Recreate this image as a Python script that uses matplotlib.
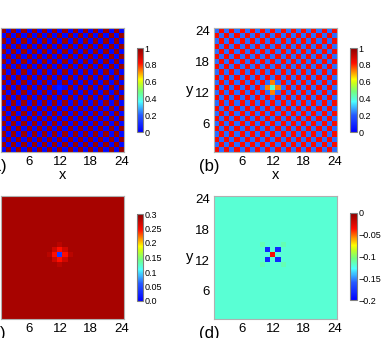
import numpy as np
import matplotlib
matplotlib.use("Agg")
import matplotlib.pyplot as plt
from matplotlib.colors import LinearSegmentedColormap

plt.rcParams['font.family'] = ['Liberation Sans', 'DejaVu Sans']

# grid size and position of the defect site (x, y)
n = 24
cx, cy = 12, 13

# (a) checkerboard levels, defect site
a_hi, a_lo = 0.98, 0.02
a_center = 0.05

# (b) checkerboard levels, defect site and its neighbours
b_hi, b_lo = 0.83, 0.22
b_center = 0.41
b_near = 0.73

# (c) background, defect site, nearest / diagonal / second neighbours
c_bg = 0.287
c_center = 0.04
c_near = 0.245
c_diag = 0.268
c_second = 0.278

# (d) background, defect site, diagonal and second diagonal neighbours
d_bg = -0.12
d_center = -0.035
d_diag = -0.182
d_diag2 = -0.114

ticks = [6, 12, 18, 24]
cb_ticks_ab = [0, 0.2, 0.4, 0.6, 0.8, 1]
cb_labels_ab = ['0', '0.2', '0.4', '0.6', '0.8', '1']
cb_ticks_c = [0, 0.05, 0.1, 0.15, 0.2, 0.25, 0.3]
cb_labels_c = ['0.0', '0.05', '0.1', '0.15', '0.2', '0.25', '0.3']
cb_ticks_d = [-0.2, -0.15, -0.1, -0.05, 0]
cb_labels_d = ['\u22120.2', '\u22120.15', '\u22120.1', '\u22120.05', '0']

cmap = LinearSegmentedColormap.from_list('jetlike', [
    (0.00, (0.0, 0.0, 1.0)),
    (0.20, (0.15, 0.35, 1.0)),
    (0.36, (0.3, 1.0, 1.0)),
    (0.48, (0.45, 1.0, 0.5)),
    (0.58, (0.8, 1.0, 0.1)),
    (0.63, (1.0, 1.0, 0.0)),
    (0.72, (1.0, 0.55, 0.0)),
    (0.82, (1.0, 0.05, 0.0)),
    (1.00, (0.55, 0.0, 0.0)),
])

yy, xx = np.indices((n, n)) + 1
even = (xx + yy) % 2 == 0

A = np.where(even, a_lo, a_hi)
A[cy - 1, cx - 1] = a_center

B = np.where(even, b_hi, b_lo)
B[cy - 1, cx - 1] = b_center
for dx, dy in [(1, 0), (-1, 0), (0, 1), (0, -1)]:
    B[cy - 1 + dy, cx - 1 + dx] = b_near

C = np.full((n, n), c_bg)
for dx, dy in [(2, 0), (-2, 0), (0, 2), (0, -2)]:
    C[cy - 1 + dy, cx - 1 + dx] = c_second
for dx, dy in [(1, 1), (-1, 1), (1, -1), (-1, -1)]:
    C[cy - 1 + dy, cx - 1 + dx] = c_diag
for dx, dy in [(1, 0), (-1, 0), (0, 1), (0, -1)]:
    C[cy - 1 + dy, cx - 1 + dx] = c_near
C[cy - 1, cx - 1] = c_center

D = np.full((n, n), d_bg)
for dx, dy in [(2, 2), (-2, 2), (2, -2), (-2, -2)]:
    D[cy - 1 + dy, cx - 1 + dx] = d_diag2
for dx, dy in [(1, 1), (-1, 1), (1, -1), (-1, -1)]:
    D[cy - 1 + dy, cx - 1 + dx] = d_diag
D[cy - 1, cx - 1] = d_center

W, H = 388, 338
fig = plt.figure(figsize=(W / 100, H / 100), dpi=100)


def px(x0, y0, x1, y1):
    return [x0 / W, 1 - y1 / H, (x1 - x0) / W, (y1 - y0) / H]


panels = [
    (A, 0, 1, '(a)', px(1, 28, 124, 152), px(137, 48, 143, 132), cb_ticks_ab, cb_labels_ab, True),
    (B, 0, 1, '(b)', px(214, 28, 337, 152), px(350, 48, 357, 132), cb_ticks_ab, cb_labels_ab, True),
    (C, 0, 0.3, '(c)', px(1, 196, 124, 319), px(137, 214, 143, 301), cb_ticks_c, cb_labels_c, True),
    (D, -0.2, 0, '(d)', px(214, 196, 337, 319), px(350, 213, 357, 300), cb_ticks_d, cb_labels_d, False),
]

for Z, vmin, vmax, tag, rect, crect, ct, cl, show_x in panels:
    ax = fig.add_axes(rect)
    im = ax.imshow(Z, cmap=cmap, vmin=vmin, vmax=vmax, origin='lower',
                   extent=[0.5, n + 0.5, 0.5, n + 0.5], interpolation='nearest', aspect='auto')
    ax.set_xticks(ticks)
    ax.set_yticks(ticks)
    ax.tick_params(length=0, labelsize=9.5, pad=3)
    for s in ax.spines.values():
        s.set_color('#b0b0b0')
        s.set_linewidth(0.8)
    if show_x:
        ax.set_xlabel('x', fontsize=10.5, labelpad=0)
    ax.set_ylabel('y', fontsize=10.5, rotation=0, labelpad=4, va='center')
    ax.text(-0.12, -0.12, tag, transform=ax.transAxes, fontsize=12, va='center', ha='left')

    cax = fig.add_axes(crect)
    cb = fig.colorbar(im, cax=cax, ticks=ct)
    cb.ax.set_yticklabels(cl)
    cb.ax.tick_params(labelsize=6.5, length=0, pad=1)
    cb.outline.set_edgecolor('#808080')
    cb.outline.set_linewidth(0.8)

fig.savefig('out.png', dpi=100)
